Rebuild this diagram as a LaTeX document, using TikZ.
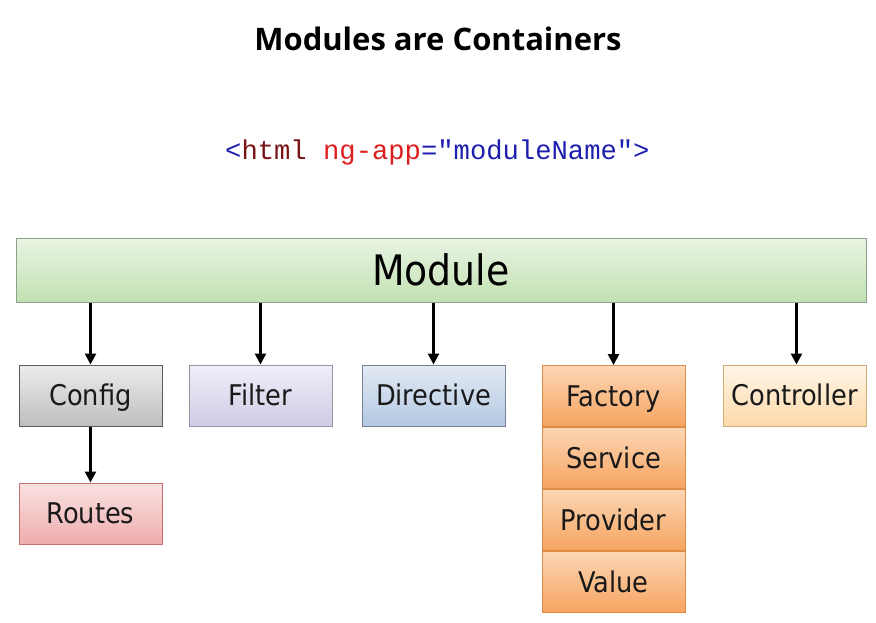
\documentclass[tikz,border=0pt]{standalone}
\usepackage{fontspec}
\setmainfont{DejaVu Sans Condensed}
\newfontfamily\titlefont{Open Sans}
\newfontfamily\codefont{Liberation Mono}
\usetikzlibrary{arrows.meta}
\definecolor{codeblue}{RGB}{30,30,175}
\definecolor{codemaroon}{RGB}{120,20,20}
\definecolor{codered}{RGB}{220,30,30}
\definecolor{modD}{RGB}{140,160,140}\definecolor{modT}{RGB}{232,244,226}\definecolor{modB}{RGB}{194,225,178}
\definecolor{cfgD}{RGB}{90,90,90}\definecolor{cfgT}{RGB}{236,236,236}\definecolor{cfgB}{RGB}{190,190,190}
\definecolor{filD}{RGB}{150,150,160}\definecolor{filT}{RGB}{240,238,248}\definecolor{filB}{RGB}{208,204,230}
\definecolor{dirD}{RGB}{120,130,150}\definecolor{dirT}{RGB}{226,234,244}\definecolor{dirB}{RGB}{180,200,226}
\definecolor{facD}{RGB}{224,140,70}\definecolor{facT}{RGB}{252,214,180}\definecolor{facB}{RGB}{246,164,96}
\definecolor{conD}{RGB}{210,170,120}\definecolor{conT}{RGB}{255,245,230}\definecolor{conB}{RGB}{252,218,170}
\definecolor{rouD}{RGB}{200,110,110}\definecolor{rouT}{RGB}{250,226,226}\definecolor{rouB}{RGB}{238,172,172}
\tikzset{
  x=1pt,y=-1pt,
  box/.style={draw=#1D, top color=#1T, bottom color=#1B, line width=1pt, minimum width=143pt, minimum height=61pt,
    inner sep=0pt, text height=26pt, text depth=6pt, font=\fontsize{28.5}{32}\selectfont, text=black!90},
  link/.style={-{Triangle[length=11pt,width=11pt]}, line width=2.6pt, black},
}
\begin{document}
\begin{tikzpicture}
\useasboundingbox (0,0) rectangle (876,622);
\fill[white] (0,0) rectangle (876,622);
% title
\node[font=\titlefont\bfseries\fontsize{31}{36}\selectfont] (title) at (438,39) {Modules are Containers};
% code
\node[font=\codefont\fontsize{27.2}{32}\selectfont, anchor=west, inner sep=0pt] (code) at (225,152)
  {\textcolor{codeblue}{<}\textcolor{codemaroon}{html}~\textcolor{codered}{ng-app}\textcolor{codeblue}{="moduleName">}};
% module
\node[draw=modD, line width=1pt, top color=modT, bottom color=modB, minimum width=850pt, minimum height=64pt, inner sep=0pt,
  font=\fontsize{42}{48}\selectfont] (module) at (441,270) {Module};
% children
\node[box=cfg] (config) at (90.5,395.5) {Config};
\node[box=fil] (filter) at (260.5,395.5) {Filter};
\node[box=dir] (directive) at (433.5,395.5) {Directive};
\node[box=fac] (factory) at (613.5,396) {Factory};
\node[box=fac, anchor=north] (service) at (factory.south) {Service};
\node[box=fac, anchor=north] (provider) at (service.south) {Provider};
\node[box=fac, anchor=north] (value) at (provider.south) {Value};
\node[box=con] (controller) at (794.5,395.5) {Controller};
\node[box=rou] (routes) at (90.5,513.5) {Routes};
% arrows
\draw[link] (module.south -| config.north) -- (config.north);
\draw[link] (module.south -| filter.north) -- (filter.north);
\draw[link] (module.south -| directive.north) -- (directive.north);
\draw[link] (module.south -| factory.north) -- (factory.north);
\draw[link] ([xshift=2pt]module.south -| controller.north) -- ([xshift=2pt]controller.north);
\draw[link] (config.south) -- (routes.north);
\end{tikzpicture}
\end{document}
